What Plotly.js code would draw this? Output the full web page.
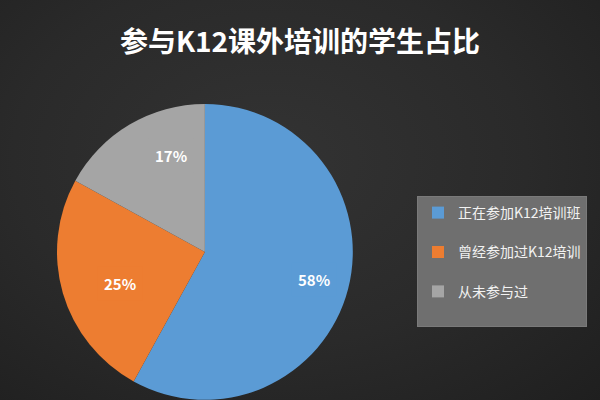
<!DOCTYPE html>
<html>
<head>
<meta charset="utf-8">
<script src="https://cdn.plot.ly/plotly-3.0.1.min.js"></script>
<style>
  html, body { margin: 0; padding: 0; overflow: hidden; }
  body {
    width: 600px; height: 400px;
    background: radial-gradient(ellipse at 45% 40%, #333333 0%, #2a2a2a 55%, #1f1f1f 100%);
  }
  #chart { width: 600px; height: 440px; }
</style>
</head>
<body>
<div id="chart"></div>
<script>
// 参与K12课外培训的学生占比
var labels = ['正在参加K12培训班', '曾经参加过K12培训', '从未参与过'];
var shares = [58, 25, 17];
var colors = ['#5b9bd5', '#ed7d31', '#a5a5a5'];

var W = 600, H = 440;
// pie sits low and runs off the bottom edge, as in the picture
var domX = [0.095, 0.588];
var domY = [0.091, 0.764];

var pie = {
  type: 'pie',
  // a blank second line only to give legend rows the roomy spacing of the original
  labels: labels.map(function (l) { return l + '<br> '; }),
  values: shares,
  sort: false,
  direction: 'clockwise',
  rotation: 0,
  marker: { colors: colors, line: { width: 0 } },
  textinfo: 'none',
  hoverinfo: 'label+percent',
  domain: { x: domX, y: domY }
};

// percent labels near the rim of each slice, from the slice's middle angle
var cx = (domX[0] + domX[1]) / 2 * W;
var cy = (domY[0] + domY[1]) / 2 * H;
var R = Math.min((domX[1] - domX[0]) * W, (domY[1] - domY[0]) * H) / 2;
var total = shares.reduce(function (a, b) { return a + b; }, 0);
var annotations = [];
var acc = 0;
for (var i = 0; i < shares.length; i++) {
  var mid = (acc + shares[i] / 2) / total * 2 * Math.PI;
  acc += shares[i];
  var r = R * 0.76;
  annotations.push({
    xref: 'paper', yref: 'paper',
    x: (cx + r * Math.sin(mid)) / W,
    y: (cy + r * Math.cos(mid)) / H,
    text: '<b>' + Math.round(shares[i] / total * 100) + '%</b>',
    showarrow: false,
    bgcolor: colors[i],
    borderpad: 6,
    font: { family: 'Noto Sans CJK SC, sans-serif', size: 15, color: '#ffffff' }
  });
}

var layout = {
  width: W,
  height: H,
  margin: { l: 0, r: 0, t: 0, b: 0 },
  paper_bgcolor: 'rgba(0,0,0,0)',
  plot_bgcolor: 'rgba(0,0,0,0)',
  title: {
    text: '<b>参与K12课外培训的学生占比</b>',
    x: 0.5, xanchor: 'center',
    y: 1 - 42 / H, yanchor: 'middle',
    font: { family: 'Noto Sans CJK SC, sans-serif', size: 28, color: '#ffffff' }
  },
  showlegend: true,
  legend: {
    x: 0.695, xanchor: 'left',
    y: 1 - 196 / H, yanchor: 'top',
    valign: 'top',
    bgcolor: '#6f6f6f',
    bordercolor: '#7a7a7a',
    borderwidth: 1,
    font: { family: 'Noto Sans CJK SC, sans-serif', size: 14, color: '#f2f2f2' }
  },
  annotations: annotations
};

Plotly.newPlot('chart', [pie], layout, { displayModeBar: false, staticPlot: true });
</script>
</body>
</html>
